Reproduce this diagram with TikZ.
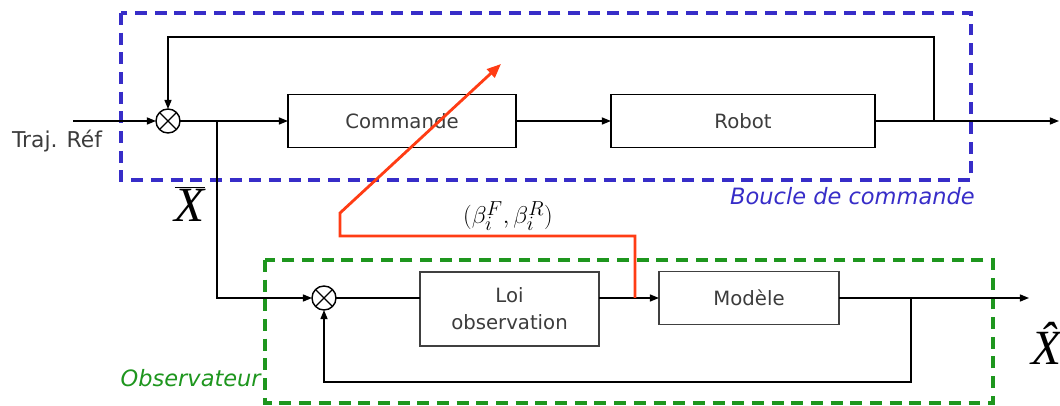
\documentclass[tikz,border=0pt]{standalone}
\usepackage{fontspec}
\setmainfont{DejaVu Sans}
\newfontfamily\serif{Liberation Serif}
\usetikzlibrary{arrows.meta}
\definecolor{loopblue}{RGB}{55,45,200}
\definecolor{obsgreen}{RGB}{30,150,30}
\definecolor{paramred}{RGB}{255,60,20}
\definecolor{boxtext}{RGB}{60,60,60}
\tikzset{
  wire/.style={line width=1.1pt, draw=black},
  arr/.style={wire, -{Triangle[length=6.5pt,width=5pt]}},
  blockbox/.style={draw=black, line width=1.2pt, inner sep=0pt, outer sep=0pt,
    text=boxtext, font=\fontsize{14}{17}\selectfont, align=center},
  obsbox/.style={blockbox, draw=black!75, line width=1pt},
  summer/.style={circle, draw=black, line width=1pt, minimum size=0.6cm, inner sep=0pt, outer sep=0pt},
  frame/.style={line width=2.2pt, dash pattern=on 8.5pt off 5.5pt},
  redpath/.style={draw=paramred, line width=2pt},
  maths/.style={font=\serif\itshape\fontsize{35}{35}\selectfont, inner sep=0pt},
  caption/.style={font=\itshape\fontsize{16}{18}\selectfont, inner sep=0pt}
}
\newcommand{\crossin}[1]{\draw[line width=1pt] (#1.north west) -- (#1.south east) (#1.north east) -- (#1.south west);}
\begin{document}
\begin{tikzpicture}[x=0.025cm, y=-0.025cm]
\useasboundingbox (0,0) rectangle (1060,406);

% dashed frames
\draw[frame, draw=loopblue] (121,13) rectangle (971,180);
\draw[frame, draw=obsgreen] (265,260) rectangle (993,403);
\node[caption, text=loopblue, anchor=east] (lblloop) at (975,196) {Boucle de commande};
\node[caption, text=obsgreen, anchor=east] (lblobs) at (261,378) {Observateur};

% control loop
\node[summer] (s1) at (168,121) {};
\crossin{s1}
\node[blockbox, minimum width=5.7cm, minimum height=1.325cm] (cmd) at (402,121) {Commande};
\node[blockbox, minimum width=6.6cm, minimum height=1.325cm] (rob) at (743,121) {Robot};
\coordinate (in) at (73,121);
\coordinate (out) at (1059,121);
\coordinate (b1) at (934,121);
\coordinate (top) at (934,37);
\coordinate (b2) at (217,121);
\node[font=\fontsize{15.5}{18}\selectfont, text=boxtext, inner sep=0pt] (traj) at (57,141) {Traj. Réf};

\draw[arr] (in) -- (s1.west);
\draw[arr] (s1.east) -- (cmd.west);
\draw[arr] (cmd.east) -- (rob.west);
\draw[arr] (rob.east) -- (out);
\draw[arr] (b1) -- (top) -| (s1.north);

% observer
\node[summer] (s2) at (324,298) {};
\crossin{s2}
\node[obsbox, minimum width=4.475cm, minimum height=1.85cm] (loi) at (509.5,309) {Loi\\[2pt]observation};
\node[obsbox, minimum width=4.5cm, minimum height=1.325cm] (mod) at (749,298) {Modèle};
\coordinate (xout) at (1029,298);
\coordinate (b3) at (911,298);
\coordinate (bot) at (911,382);

\draw[arr] (b2) |- (s2.west);
\draw[wire] (s2.east) -- (loi.west |- s2);
\draw[arr] (loi.east |- s2) -- (mod.west);
\draw[arr] (mod.east) -- (xout);
\draw[arr] (b3) -- (bot) -| (s2.south);

% signal labels
\node[maths] (xbar) at (190,204) {$\overline{\hbox{X}}$};
\node[maths] (xhat) at (1047,343) {\^{X}};
\node[inner sep=0pt, font=\fontsize{19}{22}\selectfont] (beta) at (508,216) {$(\beta_i^F,\beta_i^R)$};

% parameter path
\coordinate (r0) at (635,298);
\coordinate (r1) at (635,236);
\coordinate (r2) at (340,236);
\coordinate (r3) at (340,213);
\coordinate (r4) at (501,64);
\draw[redpath, -{Triangle[length=10pt,width=8pt]}] (r0) -- (r1) -- (r2) -- (r3) -- (r4);
\end{tikzpicture}
\end{document}
